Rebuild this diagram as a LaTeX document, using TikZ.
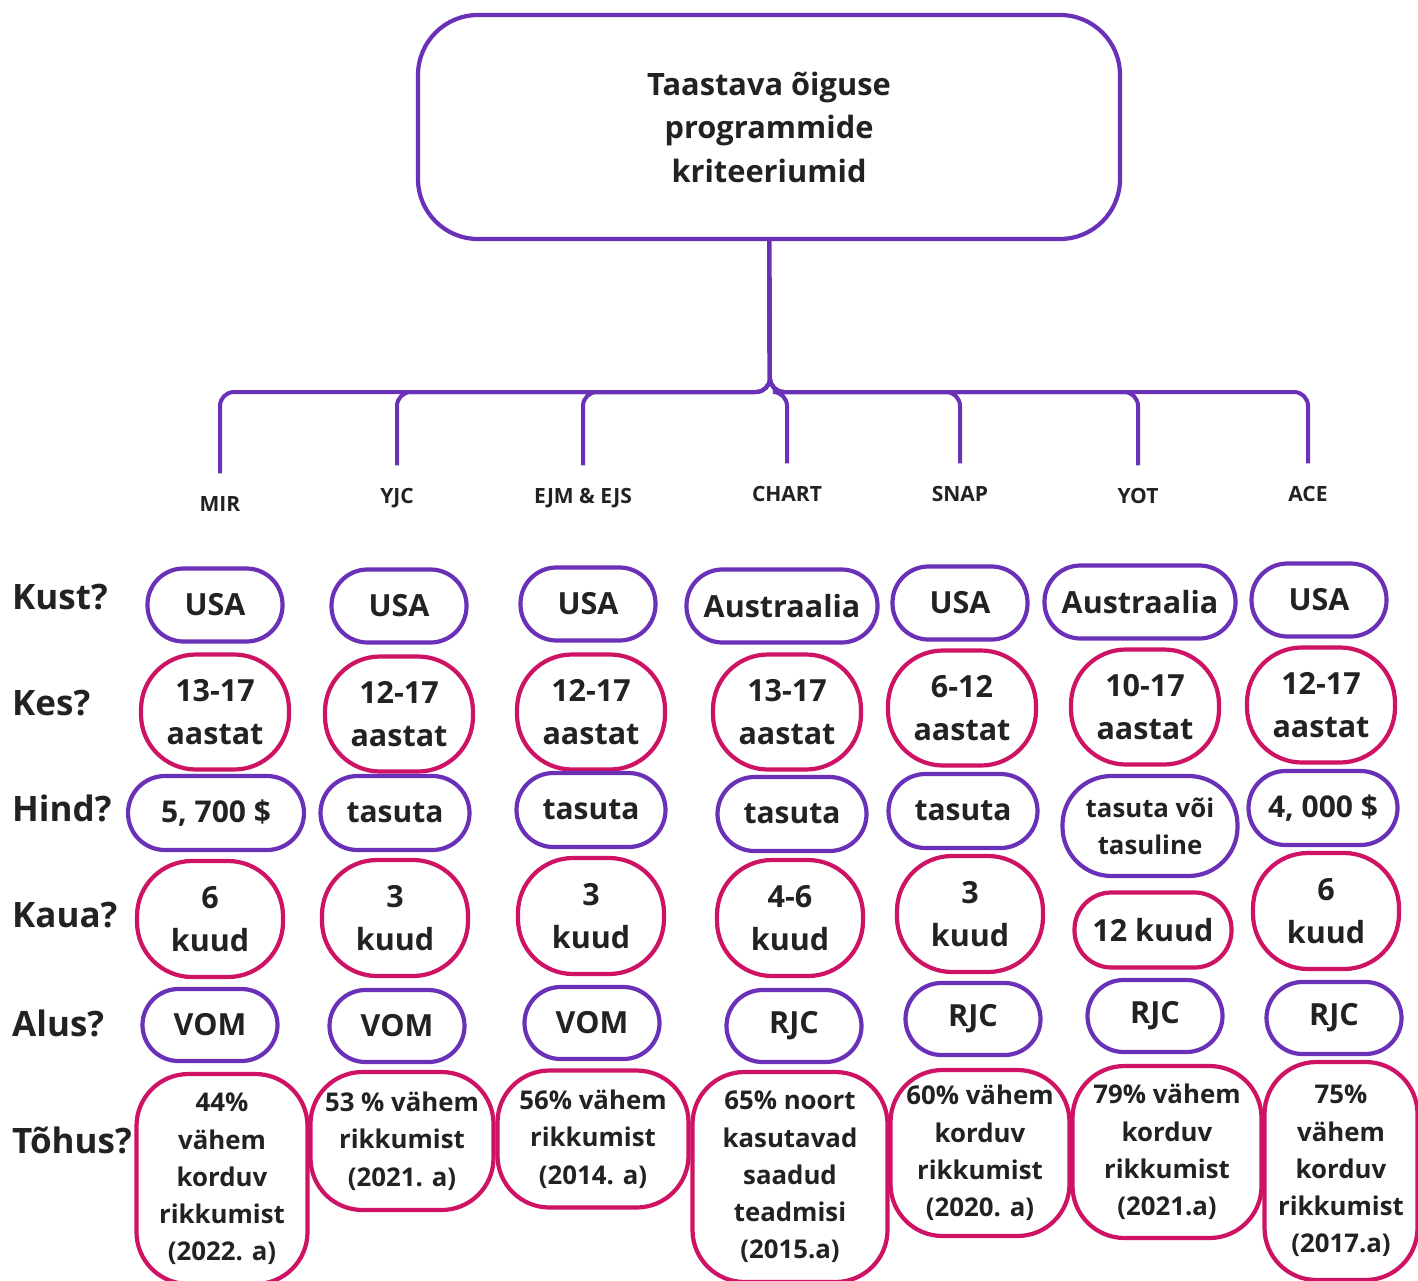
\documentclass[tikz,border=0pt]{standalone}
\usepackage{fontspec}
\setmainfont{Open Sans}
\definecolor{purp}{RGB}{107,48,184}
\definecolor{mag}{RGB}{206,18,100}
\definecolor{txt}{RGB}{34,34,34}
\tikzset{
  box/.style={draw=purp, line width=4.2pt, align=center, inner sep=0pt, text=txt, font=\bfseries},
  pp/.style={box, draw=purp},
  mm/.style={box, draw=mag},
  fA/.style={font=\bfseries\fontsize{30.5}{43}\selectfont},
  fB/.style={font=\bfseries\fontsize{30.5}{43}\selectfont},
  fC/.style={font=\bfseries\fontsize{25.8}{37.3}\selectfont},
  rowlab/.style={anchor=west, inner sep=0pt, text=txt, font=\bfseries\fontsize{35}{40}\selectfont},
  brlab/.style={inner sep=0pt, text height=15pt, text depth=0pt, text=txt, font=\bfseries\fontsize{21}{24}\selectfont},
  conn/.style={draw=purp, line width=4pt, rounded corners=14pt, shorten >=23pt},
}
\begin{document}
\begin{tikzpicture}[x=1pt,y=-1pt]
\useasboundingbox (0,0) rectangle (1418,1281);
\fill[white] (0,0) rectangle (1418,1281);

% title
\node[pp, rounded corners=60pt, minimum width=702pt, minimum height=224pt,
      font=\bfseries\fontsize{30.8}{43.5}\selectfont] (top) at (769,127)
      {Taastava õiguse\\programmide\\kriteeriumid};

% branch labels
\node[brlab] (bMIR)   at (220,504) {MIR};
\node[brlab] (bYJC)   at (397,496) {YJC};
\node[brlab] (bEJM)   at (583,496) {EJM \& EJS};
\node[brlab] (bCHART) at (787,494) {CHART};
\node[brlab] (bSNAP)  at (960,494) {SNAP};
\node[brlab] (bYOT)   at (1138,496) {YOT};
\node[brlab] (bACE)   at (1308,494) {ACE};

\coordinate (bus) at (770,392);
\foreach \b in {bMIR,bYJC,bEJM,bCHART,bSNAP,bYOT,bACE}
  \draw[conn] (top.south) -- (bus) -| (\b.north);

% row labels
\node[rowlab] (lKust)  at (12,597)  {Kust?};
\node[rowlab] (lKes)   at (12,703)  {Kes?};
\node[rowlab] (lHind)  at (12,808)  {Hind?};
\node[rowlab] (lKaua)  at (12,915)  {Kaua?};
\node[rowlab] (lAlus)  at (12,1023) {Alus?};
\node[rowlab] (lTohus) at (12,1140) {Tõhus?};

% Kust?
\tikzset{kust/.style={pp, fA, rounded corners=36pt, minimum height=73pt, minimum width=135pt}}
\node[kust] (k1) at (215,605) {USA};
\node[kust] (k2) at (399,606) {USA};
\node[kust] (k3) at (588,604) {USA};
\node[kust, minimum width=191pt] (k4) at (782,606) {Austraalia};
\node[kust] (k5) at (960,603) {USA};
\node[kust, minimum width=191pt] (k6) at (1140,602) {Austraalia};
\node[kust] (k7) at (1319,600) {USA};

% Kes?
\tikzset{kes/.style={mm, fB, rounded corners=55pt, minimum height=115pt, minimum width=148pt}}
\node[kes] (e1) at (215,712) {13-17\\aastat};
\node[kes] (e2) at (399,714) {12-17\\aastat};
\node[kes] (e3) at (591,712) {12-17\\aastat};
\node[kes] (e4) at (787,712) {13-17\\aastat};
\node[kes] (e5) at (962,708) {6-12\\aastat};
\node[kes] (e6) at (1145,707) {10-17\\aastat};
\node[kes] (e7) at (1321,705) {12-17\\aastat};

% Hind?
\tikzset{hind/.style={pp, font=\bfseries\fontsize{30}{40}\selectfont, rounded corners=37pt, minimum height=74pt, minimum width=149pt}}
\node[hind, minimum width=176pt] (h1) at (216,813) {5, 700 \$};
\node[hind] (h2) at (395,813) {tasuta};
\node[hind] (h3) at (591,810) {tasuta};
\node[hind] (h4) at (792,814) {tasuta};
\node[hind] (h5) at (963,811) {tasuta};
\node[hind, fC, minimum width=175pt, minimum height=100pt, rounded corners=49pt] (h6) at (1150,826) {tasuta või\\tasuline};
\node[hind] (h7) at (1323,808) {4, 000 \$};

% Kaua?
\tikzset{kaua/.style={mm, fB, rounded corners=55pt, minimum height=116pt, minimum width=146pt}}
\node[kaua] (a1) at (210,919) {6\\kuud};
\node[kaua] (a2) at (395,918) {3\\kuud};
\node[kaua] (a3) at (591,916) {3\\kuud};
\node[kaua] (a4) at (790,918) {4-6\\kuud};
\node[kaua] (a5) at (970,914) {3\\kuud};
\node[kaua, minimum width=157pt, minimum height=75pt, rounded corners=37pt] (a6) at (1153,930) {12 kuud};
\node[kaua] (a7) at (1326,911) {6\\kuud};

% Alus?
\tikzset{alus/.style={pp, fB, rounded corners=36pt, minimum height=72pt, minimum width=135pt}}
\node[alus] (s1) at (210,1025) {VOM};
\node[alus] (s2) at (397,1026) {VOM};
\node[alus] (s3) at (592,1023) {VOM};
\node[alus] (s4) at (794,1026) {RJC};
\node[alus] (s5) at (973,1019) {RJC};
\node[alus] (s6) at (1155,1016) {RJC};
\node[alus] (s7) at (1334,1018) {RJC};

% Tõhus?
\tikzset{tohus/.style={mm, fC, rounded corners=52pt}}
\node[tohus, minimum width=171pt, minimum height=210pt] (t1) at (222,1179) {44\%\\vähem\\korduv\\rikkumist\\(2022. a)};
\node[tohus, minimum width=183pt, minimum height=138pt] (t2) at (402,1141) {53 \% vähem\\rikkumist\\(2021. a)};
\node[tohus, minimum width=191pt, minimum height=137pt] (t3) at (593,1139) {56\% vähem\\rikkumist\\(2014. a)};
\node[tohus, minimum width=195pt, minimum height=210pt] (t4) at (790,1177) {65\% noort\\kasutavad\\saadud\\teadmisi\\(2015.a)};
\node[tohus, minimum width=179pt, minimum height=166pt] (t5) at (980,1153) {60\% vähem\\korduv\\rikkumist\\(2020. a)};
\node[tohus, minimum width=189pt, minimum height=172pt] (t6) at (1167,1152) {79\% vähem\\korduv\\rikkumist\\(2021.a)};
\node[tohus, minimum width=153pt, minimum height=218pt] (t7) at (1341,1171) {75\%\\vähem\\korduv\\rikkumist\\(2017.a)};
\end{tikzpicture}
\end{document}
